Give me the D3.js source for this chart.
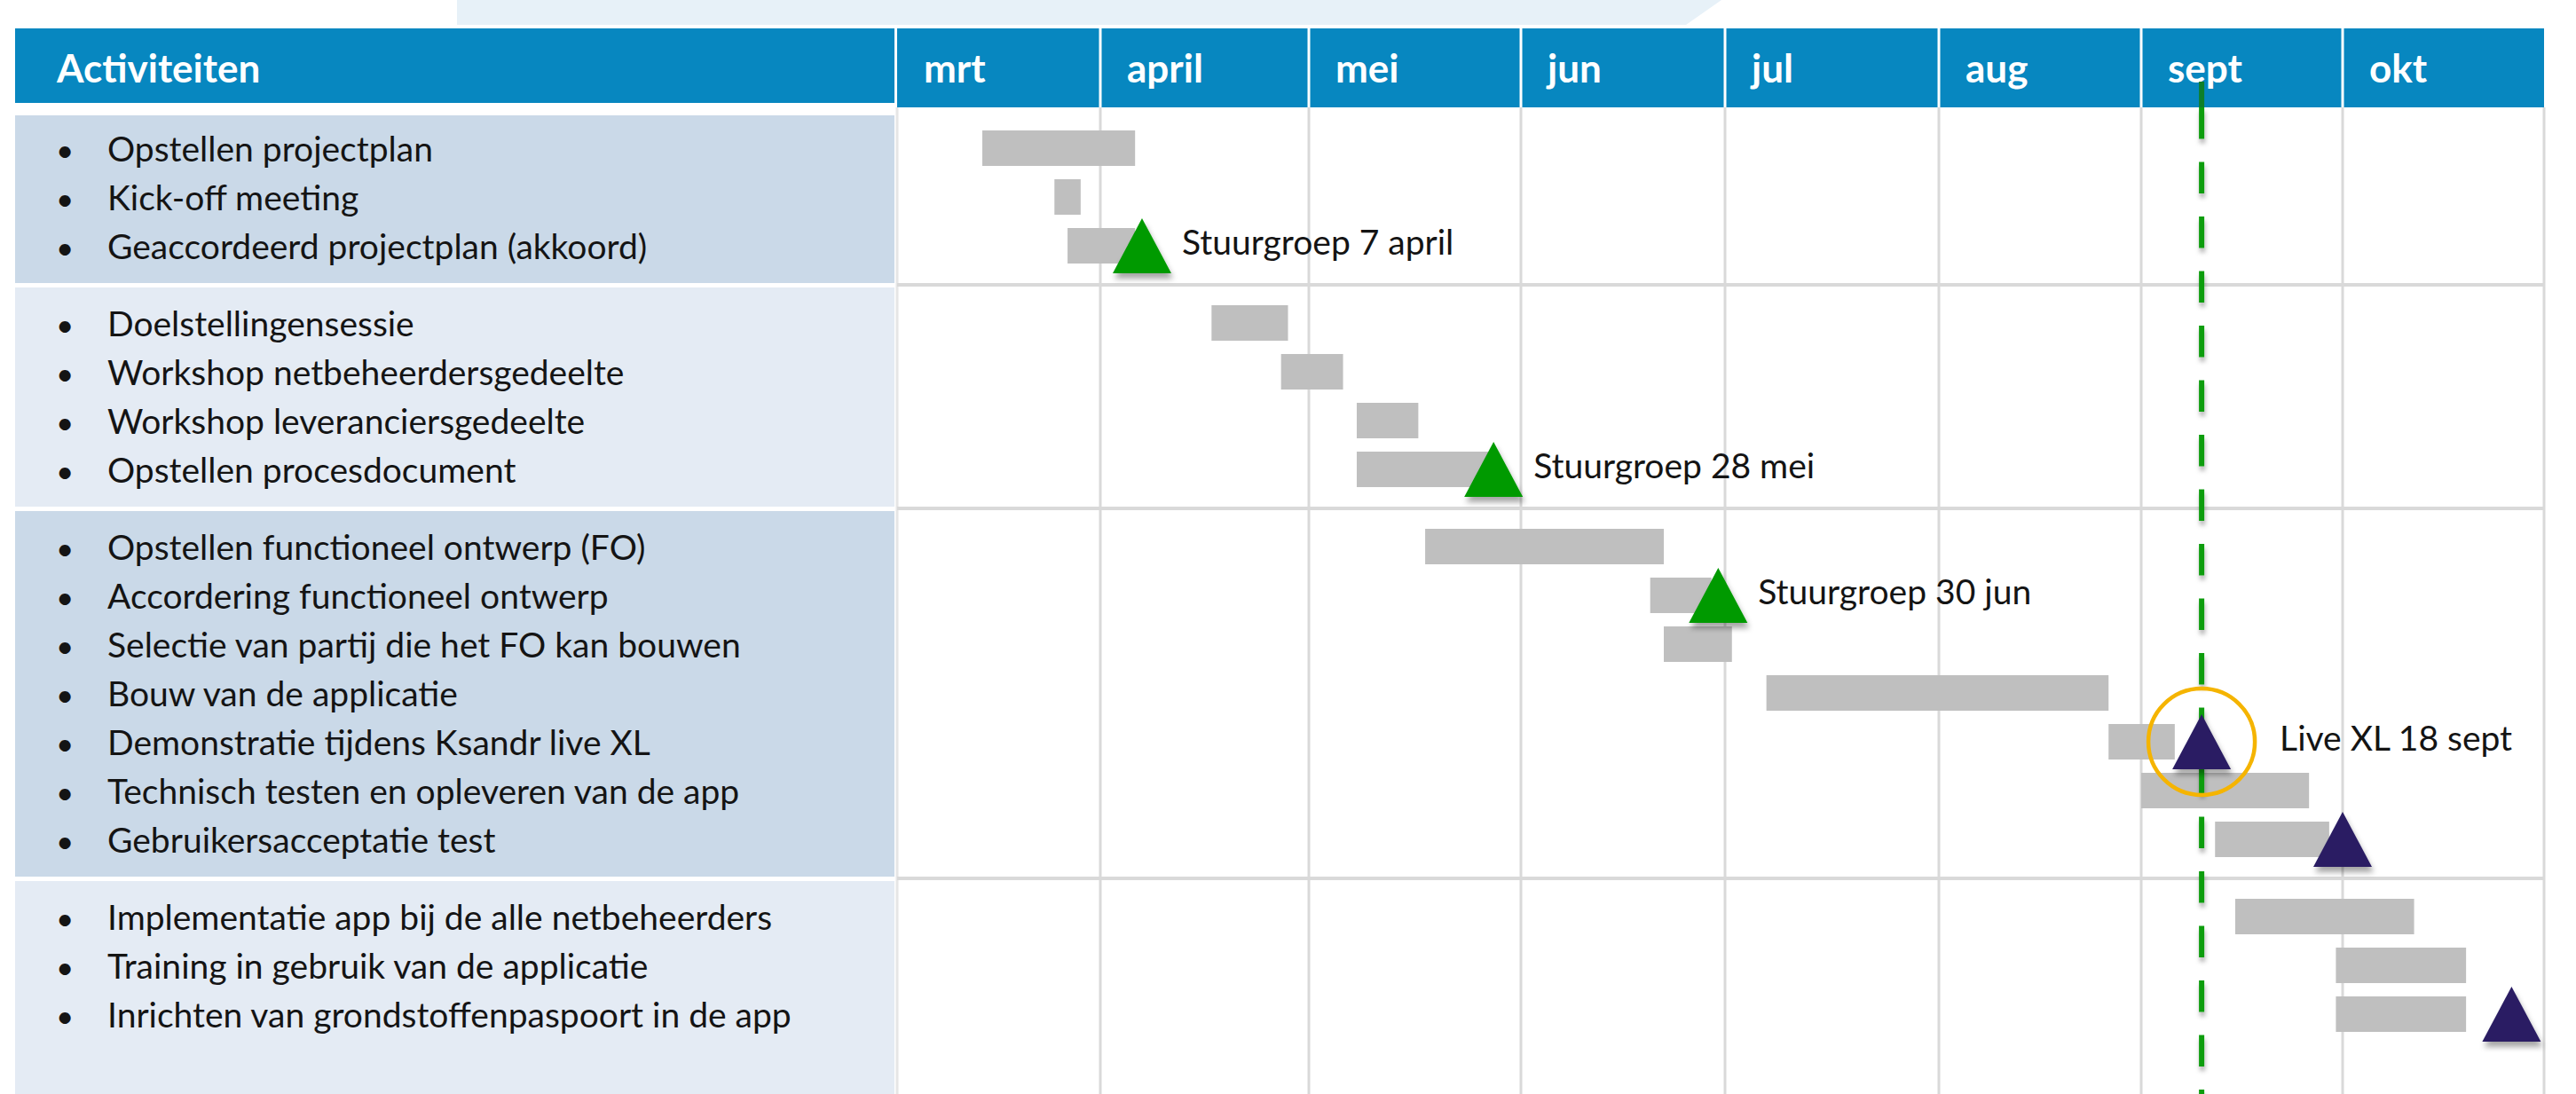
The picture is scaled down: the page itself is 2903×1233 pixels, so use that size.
<!DOCTYPE html>
<html><head><meta charset="utf-8">
<script src="https://cdn.jsdelivr.net/npm/d3@7/dist/d3.min.js"></script>
<style>
html,body{margin:0;padding:0;background:#fff;}
svg{display:block;font-family:Lato,"Open Sans",sans-serif;}
</style></head><body>
<svg id="chart" width="2903" height="1233"></svg>
<script>
// ---------- DATA ----------
const headerTitle = "Activiteiten";
const months = ["mrt","april","mei","jun","jul","aug","sept","okt"];
const monthStarts = ["2020-03-01","2020-04-01","2020-05-01","2020-06-01","2020-07-01","2020-08-01","2020-09-01","2020-10-01","2020-11-01"];
const activities = [
  "Opstellen projectplan","Kick-off meeting","Geaccordeerd projectplan (akkoord)",
  "Doelstellingensessie","Workshop netbeheerdersgedeelte","Workshop leveranciersgedeelte","Opstellen procesdocument",
  "Opstellen functioneel ontwerp (FO)","Accordering functioneel ontwerp","Selectie van partij die het FO kan bouwen","Bouw van de applicatie","Demonstratie tijdens Ksandr live XL","Technisch testen en opleveren van de app","Gebruikersacceptatie test",
  "Implementatie app bij de alle netbeheerders","Training in gebruik van de applicatie","Inrichten van grondstoffenpaspoort in de app"
];
const activityGroup = [0,0,0, 1,1,1,1, 2,2,2,2,2,2,2, 3,3,3];
const barStart = ["2020-03-14","2020-03-25","2020-03-27","2020-04-17","2020-04-27","2020-05-08","2020-05-08","2020-05-18","2020-06-20","2020-06-22","2020-07-07","2020-08-27","2020-09-01","2020-09-12","2020-09-15","2020-09-30","2020-09-30"];
const barEnd   = ["2020-04-06","2020-03-29","2020-04-06","2020-04-28","2020-05-06","2020-05-17","2020-05-28","2020-06-22","2020-06-29","2020-07-02","2020-08-27","2020-09-06","2020-09-26","2020-09-29","2020-10-12","2020-10-20","2020-10-20"];
const milestoneRow   = [2, 6, 8, 11, 13, 16];
const milestoneDate  = ["2020-04-07","2020-05-28","2020-06-30","2020-09-10","2020-10-01","2020-10-27"];
const milestoneLabel = ["Stuurgroep 7 april","Stuurgroep 28 mei","Stuurgroep 30 jun","Live XL 18 sept","",""];
const milestoneType  = ["stuurgroep","stuurgroep","stuurgroep","live","live","live"];
const highlightMilestone = 3;
const todayDate = "2020-09-10";

// ---------- LAYOUT ----------
const W = 2903, H = 1233;
const leftX0 = 17, leftX1 = 1008;
const colEdges = [1011,1240,1475,1714,1944,2185,2413,2640,2867];
const headerY0 = 32, headerY1 = 121, leftHeaderY1 = 116;
const firstTop = 124, lineH = 55, groupPad = 32, baseOff = 58, barOffset = -15, barH = 40;
const triW = 66, triH = 62;
const fontSize = 39, headerFont = 44;

const parse = d3.timeParse("%Y-%m-%d");
const x = d3.scaleTime().domain(monthStarts.map(parse)).range(colEdges);

// group geometry
const nGroups = d3.max(activityGroup) + 1;
const groupCounts = d3.range(nGroups).map(g => activityGroup.filter(v => v === g).length);
const groupTop = [];
let acc = firstTop;
groupCounts.forEach((n, g) => { groupTop.push(acc); acc += n * lineH + groupPad; });
const groupBottom = groupTop.map((t, g) => g < nGroups - 1 ? groupTop[g + 1] : H + 10);
const baseline = activities.map((a, i) => {
  const g = activityGroup[i];
  const idx = activityGroup.slice(0, i).filter(v => v === g).length;
  return groupTop[g] + baseOff + idx * lineH;
});
const yC = i => baseline[i] + barOffset;

const svg = d3.select("#chart");
const defs = svg.append("defs");
const f = defs.append("filter").attr("id","shadow").attr("x","-30%").attr("y","-30%").attr("width","160%").attr("height","170%");
f.append("feDropShadow").attr("dx",2).attr("dy",6).attr("stdDeviation",3).attr("flood-color","#000").attr("flood-opacity",0.35);
const f2 = defs.append("filter").attr("id","lshadow").attr("filterUnits","userSpaceOnUse")
  .attr("x",0).attr("y",0).attr("width",W).attr("height",H);
f2.append("feDropShadow").attr("dx",1).attr("dy",5).attr("stdDeviation",2.5).attr("flood-color","#000").attr("flood-opacity",0.3);

// decorative top band
svg.append("path").attr("d","M515,0 L1940,0 L1900,28 L515,28 Z").attr("fill","#e7f1f8");

// header
svg.append("rect").attr("x",leftX0).attr("y",headerY0).attr("width",leftX1-leftX0).attr("height",leftHeaderY1-headerY0).attr("fill","#0787c0");
svg.append("text").attr("x",64).attr("y",93).attr("fill","#fff").attr("font-weight","bold").attr("font-size",headerFont).text(headerTitle);

svg.selectAll("rect.mh").data(months).join("rect").attr("class","mh")
  .attr("x",(d,i)=>colEdges[i]).attr("y",headerY0)
  .attr("width",(d,i)=>colEdges[i+1]-colEdges[i]).attr("height",headerY1-headerY0)
  .attr("fill","#0787c0");
svg.selectAll("line.mhs").data(colEdges.slice(1,-1)).join("line").attr("class","mhs")
  .attr("x1",d=>d).attr("x2",d=>d).attr("y1",headerY0).attr("y2",headerY1)
  .attr("stroke","#fff").attr("stroke-width",3);
svg.selectAll("text.mt").data(months).join("text").attr("class","mt")
  .attr("x",(d,i)=>colEdges[i]+30).attr("y",93).attr("fill","#fff")
  .attr("font-weight","bold").attr("font-size",headerFont).text(d=>d);

// left group cells
const groupFill = ["#cad9e8","#e4ebf4","#cad9e8","#e4ebf4"];
svg.selectAll("rect.gc").data(d3.range(nGroups)).join("rect").attr("class","gc")
  .attr("x",leftX0).attr("width",leftX1-leftX0)
  .attr("y",g => g === 0 ? 130 : groupTop[g] + 3)
  .attr("height",g => (g < nGroups-1 ? groupBottom[g]-2 : H) - (g === 0 ? 130 : groupTop[g] + 3))
  .attr("fill",g => groupFill[g % groupFill.length]);

// grid
svg.selectAll("line.vg").data(colEdges).join("line").attr("class","vg")
  .attr("x1",d=>d).attr("x2",d=>d).attr("y1",headerY1).attr("y2",H)
  .attr("stroke",(d,i)=> i===0 ? "#e6e6e6" : "#d9d9d9").attr("stroke-width",3);
svg.selectAll("line.hg").data(groupTop.slice(1)).join("line").attr("class","hg")
  .attr("x1",colEdges[0]).attr("x2",colEdges[colEdges.length-1]).attr("y1",d=>d).attr("y2",d=>d)
  .attr("stroke","#d9d9d9").attr("stroke-width",4);

// activity text
const tg = svg.append("g").attr("font-size",fontSize).attr("fill","#141414");
tg.selectAll("text.b").data(activities).join("text").attr("class","b")
  .attr("x",63).attr("y",(d,i)=>baseline[i]).attr("font-size",fontSize-4).text("•");
tg.selectAll("text.a").data(activities).join("text").attr("class","a")
  .attr("x",121).attr("y",(d,i)=>baseline[i]).text(d=>d);

// bars
svg.selectAll("rect.bar").data(activities).join("rect").attr("class","bar")
  .attr("x",(d,i)=>x(parse(barStart[i])))
  .attr("width",(d,i)=>x(parse(barEnd[i]))-x(parse(barStart[i])))
  .attr("y",(d,i)=>yC(i)-barH/2).attr("height",barH)
  .attr("fill","#bfbfbf");

// today line
const tx = x(parse(todayDate));
svg.append("line").attr("x1",tx).attr("x2",tx).attr("y1",92).attr("y2",headerY1)
  .attr("stroke","#0e7f2a").attr("stroke-width",6);
svg.append("line").attr("x1",tx).attr("x2",tx).attr("y1",headerY1).attr("y2",H)
  .attr("stroke","#0f9d0f").attr("stroke-width",6).attr("stroke-dasharray","35.5,26")
  .attr("filter","url(#lshadow)");

// milestones
const msColor = {stuurgroep:"#009a00", live:"#2a1f63"};
const ms = svg.selectAll("g.ms").data(milestoneRow).join("g").attr("class","ms")
  .attr("transform",(r,i)=>`translate(${x(parse(milestoneDate[i]))},${yC(r)})`);
ms.append("path").attr("d",`M0,${-triH/2} L${triW/2},${triH/2} L${-triW/2},${triH/2} Z`)
  .attr("fill",(r,i)=>msColor[milestoneType[i]]).attr("filter","url(#shadow)");
ms.filter((r,i)=>i===highlightMilestone).append("circle").attr("r",60)
  .attr("fill","none").attr("stroke","#f5b400").attr("stroke-width",4.5);
ms.append("text").attr("x",(r,i)=> i===highlightMilestone ? 88 : 45).attr("y",10)
  .attr("font-size",fontSize).attr("fill","#141414").text((r,i)=>milestoneLabel[i]);
</script></body></html>
